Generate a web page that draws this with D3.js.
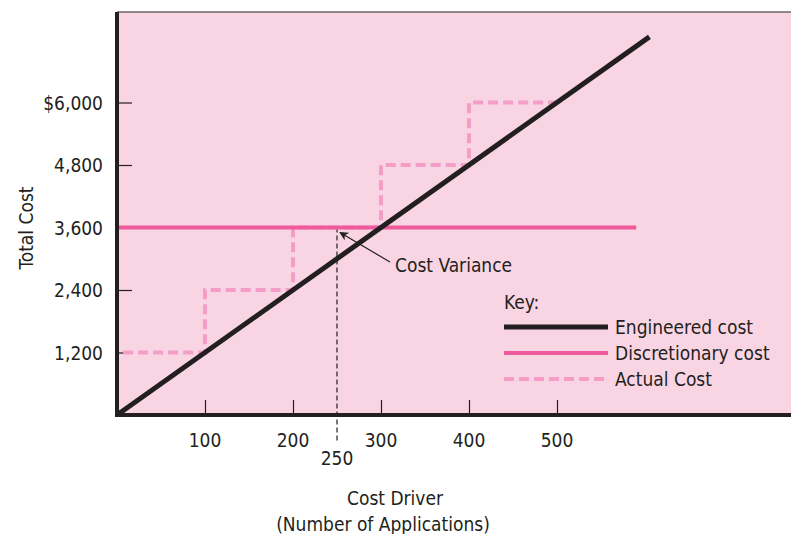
<!DOCTYPE html>
<html>
<head>
<meta charset="utf-8">
<script src="https://cdn.jsdelivr.net/npm/d3@7"></script>
<style>
  html, body { margin: 0; padding: 0; background: #ffffff; }
  svg { display: block; }
  text { font-family: "Liberation Sans Narrow", "DejaVu Sans Condensed", "Liberation Sans", sans-serif; fill: #231f20; }
</style>
</head>
<body>
<svg id="chart" width="791" height="534"></svg>
<script>
// Cost driver ticks and cost ticks
const xTicks = [100, 200, 300, 400, 500];
const yTicks = [1200, 2400, 3600, 4800, 6000];
const yTickLabels = ["1,200", "2,400", "3,600", "4,800", "$6,000"];

// Engineered cost: proportional to applications
const engineered = [[0, 0], [605, 7260]];
// Discretionary cost: fixed budget
const discretionary = [[0, 3600], [590, 3600]];
// Actual cost: step function
const actual = [[7, 1200], [100, 1200], [100, 2400], [200, 2400], [200, 3600],
                [300, 3600], [300, 4800], [400, 4800], [400, 6000], [500, 6000]];
// Point highlighted for the variance
const variancePoint = [250, 3600];

const legendItems = [
  { label: "Engineered cost", color: "#231f20", dash: null, width: 5 },
  { label: "Discretionary cost", color: "#ee5a9b", dash: null, width: 4 },
  { label: "Actual Cost", color: "#f39dc7", dash: "10,5", width: 4 }
];

const svg = d3.select("#chart");
const plotL = 117, plotT = 12, plotR = 791, plotB = 415;

const x = d3.scaleLinear().domain([0, 100]).range([plotL, plotL + 88]);
const y = d3.scaleLinear().domain([0, 1200]).range([plotB, plotB - 62.5]);

// plot background
svg.append("rect").attr("x", plotL).attr("y", plotT)
  .attr("width", plotR - plotL).attr("height", plotB - plotT)
  .attr("fill", "#f9d5e4");
svg.append("line").attr("x1", plotL).attr("x2", plotR).attr("y1", plotT).attr("y2", plotT)
  .attr("stroke", "#6d6466").attr("stroke-width", 1.5);

// inward ticks
const yAxis = d3.axisRight(y).tickValues(yTicks).tickSize(15).tickFormat("");
svg.append("g").attr("transform", `translate(${plotL},0)`).call(yAxis)
  .call(g => g.select(".domain").remove())
  .call(g => g.selectAll(".tick line").attr("stroke", "#231f20").attr("stroke-width", 1.2));
const xAxis = d3.axisTop(x).tickValues(xTicks).tickSize(15).tickFormat("");
svg.append("g").attr("transform", `translate(0,${plotB})`).call(xAxis)
  .call(g => g.select(".domain").remove())
  .call(g => g.selectAll(".tick line").attr("stroke", "#231f20").attr("stroke-width", 1.2));

// tick labels
svg.append("g").selectAll("text").data(yTicks).join("text")
  .attr("x", 103).attr("y", d => y(d) + 7)
  .attr("text-anchor", "end").attr("font-size", 19)
  .text((d, i) => yTickLabels[i]);
svg.append("g").selectAll("text").data(xTicks).join("text")
  .attr("x", d => x(d)).attr("y", 447)
  .attr("text-anchor", "middle").attr("font-size", 19)
  .text(d => d);

const line = d3.line().x(d => x(d[0])).y(d => y(d[1]));

// variance guide line
svg.append("line")
  .attr("x1", x(variancePoint[0])).attr("x2", x(variancePoint[0]))
  .attr("y1", y(variancePoint[1])).attr("y2", 442)
  .attr("stroke", "#231f20").attr("stroke-width", 1.2).attr("stroke-dasharray", "5,3");
svg.append("text").attr("x", x(variancePoint[0])).attr("y", 465)
  .attr("text-anchor", "middle").attr("font-size", 19).text("250");

// actual cost steps
svg.append("path").datum(actual).attr("d", line)
  .attr("fill", "none").attr("stroke", legendItems[2].color)
  .attr("stroke-width", 4).attr("stroke-dasharray", "10,5");
// discretionary
svg.append("path").datum(discretionary).attr("d", line)
  .attr("fill", "none").attr("stroke", legendItems[1].color).attr("stroke-width", 4);
// engineered
svg.append("path").datum(engineered).attr("d", line)
  .attr("fill", "none").attr("stroke", legendItems[0].color).attr("stroke-width", 5);

// axes lines
svg.append("line").attr("x1", plotL).attr("x2", plotL).attr("y1", plotT).attr("y2", plotB + 2)
  .attr("stroke", "#231f20").attr("stroke-width", 4);
svg.append("line").attr("x1", plotL - 2).attr("x2", plotR).attr("y1", plotB).attr("y2", plotB)
  .attr("stroke", "#231f20").attr("stroke-width", 4);

// variance annotation with arrow
svg.append("defs").append("marker").attr("id", "arrow")
  .attr("viewBox", "0 0 10 10").attr("refX", 9).attr("refY", 5)
  .attr("markerWidth", 9).attr("markerHeight", 9).attr("orient", "auto")
  .attr("markerUnits", "userSpaceOnUse")
  .append("path").attr("d", "M0,0 L10,5 L0,10 L3,5 Z").attr("fill", "#231f20");
svg.append("line")
  .attr("x1", 390).attr("y1", 262)
  .attr("x2", x(variancePoint[0]) + 3).attr("y2", y(variancePoint[1]) + 5)
  .attr("stroke", "#231f20").attr("stroke-width", 1.2).attr("marker-end", "url(#arrow)");
svg.append("text").attr("x", 395).attr("y", 272).attr("font-size", 19).text("Cost Variance");

// key
svg.append("text").attr("x", 504).attr("y", 309).attr("font-size", 19).text("Key:");
const key = svg.append("g").selectAll("g").data(legendItems).join("g")
  .attr("transform", (d, i) => `translate(504,${327 + i * 26})`);
key.append("line").attr("x1", 0).attr("x2", 104).attr("y1", 0).attr("y2", 0)
  .attr("stroke", d => d.color).attr("stroke-width", d => d.width)
  .attr("stroke-dasharray", d => d.dash);
key.append("text").attr("x", 111).attr("y", 7).attr("font-size", 19).text(d => d.label);

// axis titles
svg.append("text").attr("transform", "translate(33,228) rotate(-90)")
  .attr("text-anchor", "middle").attr("font-size", 19).text("Total Cost");
svg.append("text").attr("x", 395).attr("y", 505)
  .attr("text-anchor", "middle").attr("font-size", 19).text("Cost Driver");
svg.append("text").attr("x", 383).attr("y", 531)
  .attr("text-anchor", "middle").attr("font-size", 19).text("(Number of Applications)");
</script>
</body>
</html>
